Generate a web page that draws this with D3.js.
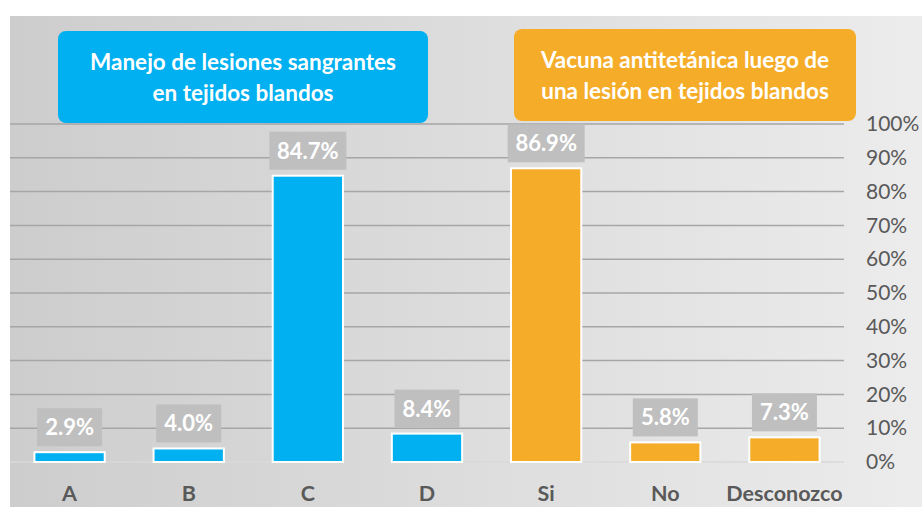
<!DOCTYPE html>
<html>
<head>
<meta charset="utf-8">
<script src="https://cdn.jsdelivr.net/npm/d3@7"></script>
<style>
  body { margin: 0; background: #fff; }
  svg { display: block; font-family: Lato, "Open Sans", sans-serif; }
</style>
</head>
<body>
<svg id="chart"></svg>
<script>
const categories = ["A", "B", "C", "D", "Si", "No", "Desconozco"];
const values = [2.9, 4.0, 84.7, 8.4, 86.9, 5.8, 7.3];
const groups = ["blue", "blue", "blue", "blue", "orange", "orange", "orange"];
const yTicks = [0, 10, 20, 30, 40, 50, 60, 70, 80, 90, 100];
const titles = [
  { key: "blue", lines: ["Manejo de lesiones sangrantes", "en tejidos blandos"] },
  { key: "orange", lines: ["Vacuna antitetánica luego de", "una lesión en tejidos blandos"] }
];

const width = 922, height = 507;
const colors = { blue: "#00b0f0", orange: "#f5ad29" };

const svg = d3.select("#chart").attr("width", width).attr("height", height);

// background gradient
const grad = svg.append("defs").append("linearGradient").attr("id", "bg");
grad.append("stop").attr("offset", "0%").attr("stop-color", "#cdcdcd");
grad.append("stop").attr("offset", "100%").attr("stop-color", "#ececec");
svg.append("rect")
  .attr("x", 10).attr("y", 16)
  .attr("width", width - 10).attr("height", height - 16)
  .attr("fill", "url(#bg)");

const x = d3.scaleBand().domain(categories).range([10, 844]).paddingInner(0.41).paddingOuter(0.205);
const y = d3.scaleLinear().domain([0, 100]).range([462, 124]);

// gridlines
svg.append("g")
  .selectAll("line")
  .data(yTicks)
  .join("line")
  .attr("x1", 10).attr("x2", 844)
  .attr("y1", d => y(d)).attr("y2", d => y(d))
  .attr("stroke", d => d === 0 ? "#d9d9d9" : "#a6a6a6")
  .attr("stroke-width", 1.5);

// right axis labels
const yAxis = svg.append("g")
  .attr("transform", "translate(844,0)")
  .call(d3.axisRight(y).tickValues(yTicks).tickFormat(d => d + "%").tickSize(0).tickPadding(22));
yAxis.select(".domain").remove();
yAxis.selectAll("text")
  .attr("fill", "#595959")
  .style("font-size", "21px")
  .style("font-family", "Lato, sans-serif");

// bars
const data = categories.map((c, i) => ({ cat: c, value: values[i], group: groups[i] }));
svg.append("g")
  .selectAll("rect")
  .data(data)
  .join("rect")
  .attr("x", d => x(d.cat))
  .attr("y", d => y(d.value))
  .attr("width", x.bandwidth())
  .attr("height", d => y(0) - y(d.value))
  .attr("fill", d => colors[d.group])
  .attr("stroke", "#ffffff")
  .attr("stroke-width", 2);

// value labels
const lbl = svg.append("g")
  .selectAll("g")
  .data(data)
  .join("g")
  .attr("transform", d => `translate(${x(d.cat) + x.bandwidth() / 2},${y(d.value) - 6})`);
lbl.append("rect")
  .attr("x", d => d.value >= 10 ? -38.5 : -32.5)
  .attr("y", -38)
  .attr("width", d => d.value >= 10 ? 77 : 65)
  .attr("height", 38)
  .attr("fill", "#bfbfbf");
lbl.append("text")
  .attr("text-anchor", "middle")
  .attr("y", -11)
  .attr("fill", "#ffffff")
  .style("font-size", "22px")
  .style("font-weight", "bold")
  .text(d => d.value.toFixed(1) + "%");

// category labels
svg.append("g")
  .selectAll("text")
  .data(categories)
  .join("text")
  .attr("x", d => x(d) + x.bandwidth() / 2)
  .attr("y", 501)
  .attr("text-anchor", "middle")
  .attr("fill", "#595959")
  .style("font-size", "21.5px")
  .style("font-weight", "bold")
  .text(d => d);

// title boxes
const boxes = [
  { x0: 58, x1: 428, y0: 31, y1: 123 },
  { x0: 514, x1: 856, y0: 29, y1: 121 }
];
titles.forEach((t, i) => {
  const b = boxes[i];
  const g = svg.append("g");
  g.append("rect")
    .attr("x", b.x0).attr("y", b.y0)
    .attr("width", b.x1 - b.x0).attr("height", b.y1 - b.y0)
    .attr("rx", 8)
    .attr("fill", colors[t.key]);
  g.selectAll("text")
    .data(t.lines)
    .join("text")
    .attr("x", (b.x0 + b.x1) / 2)
    .attr("y", (d, j) => b.y0 + 39 + j * 31)
    .attr("text-anchor", "middle")
    .attr("fill", "#ffffff")
    .style("font-size", "22.5px")
    .style("font-weight", "bold")
    .text(d => d);
});
</script>
</body>
</html>
